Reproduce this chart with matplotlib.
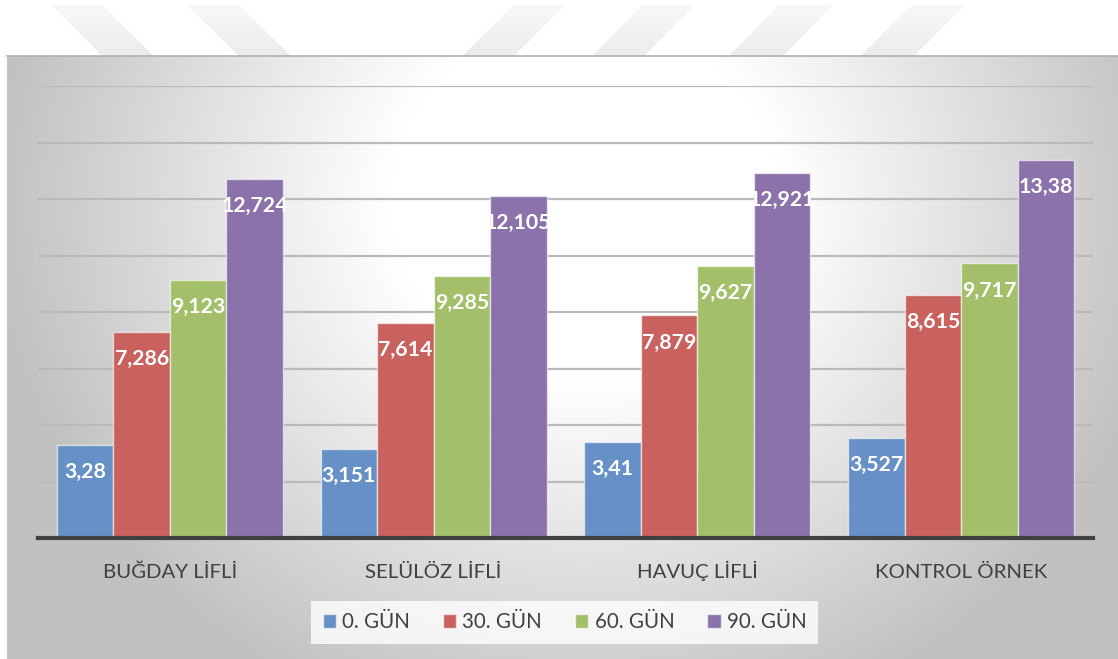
import numpy as np
import matplotlib
matplotlib.use("Agg")
import matplotlib.pyplot as plt
from matplotlib.patches import Polygon

categories = ["BUĞDAY LİFLİ", "SELÜLÖZ LİFLİ", "HAVUÇ LİFLİ", "KONTROL ÖRNEK"]
series_names = ["0. GÜN", "30. GÜN", "60. GÜN", "90. GÜN"]
gun0 = [3.28, 3.151, 3.41, 3.527]
gun30 = [7.286, 7.614, 7.879, 8.615]
gun60 = [9.123, 9.285, 9.627, 9.717]
gun90 = [12.724, 12.105, 12.921, 13.38]
labels0 = ["3,28", "3,151", "3,41", "3,527"]
labels30 = ["7,286", "7,614", "7,879", "8,615"]
labels60 = ["9,123", "9,285", "9,627", "9,717"]
labels90 = ["12,724", "12,105", "12,921", "13,38"]

colors = ["#6690C6", "#C9625E", "#A3BF69", "#8B72AA"]

plt.rcParams['font.family'] = ['Lato', 'DejaVu Sans']

W, H = 1118, 659
fig = plt.figure(figsize=(W / 100, H / 100), dpi=100)
fig.patch.set_facecolor("white")

# watermark stripes (decoration) with vertical fade
wm = fig.add_axes([0, 0, 1, 1], zorder=0)
wm.set_xlim(0, W)
wm.set_ylim(H, 0)
wm.axis("off")
grad = np.linspace(0.975, 0.925, 60).reshape(-1, 1)
grad_img = np.dstack([grad, grad, grad])
stripes = [
    [(52, 5), (102, 5), (154, 56), (102, 56)],
    [(187, 5), (239, 5), (291, 56), (239, 56)],
    [(514, 5), (565, 5), (514, 56), (462, 56)],
    [(642, 5), (695, 5), (644, 56), (592, 56)],
    [(779, 5), (833, 5), (783, 56), (729, 56)],
    [(912, 5), (965, 5), (914, 56), (860, 56)],
]
for s in stripes:
    poly = Polygon(s, closed=True, facecolor="none", edgecolor="none")
    wm.add_patch(poly)
    im = wm.imshow(grad_img, extent=[0, W, 56, 4], aspect="auto", interpolation="bilinear")
    im.set_clip_path(poly)
wm.set_xlim(0, W)
wm.set_ylim(H, 0)

# chart area gradient background
x0, y0 = 7, 56
bg = fig.add_axes([x0 / W, 0, (W - x0) / W, (H - y0) / H], zorder=1)
gx = np.linspace(x0, W, 400)
gy = np.linspace(y0, H, 240)
GX, GY = np.meshgrid(gx, gy)
t = np.sqrt(((GX - 585) / 560) ** 2 + ((GY - 200) / 520) ** 2)
t = np.clip((t - 0.35) / 0.7, 0, 1)
val = 1.0 - t * (1.0 - 0.76)
img = np.dstack([val, val, val])
bg.imshow(img, aspect="auto", extent=[0, 1, 0, 1], origin="upper")
bg.set_xlim(0, 1)
bg.set_ylim(0, 1)
bg.axis("off")
fig.add_artist(plt.Line2D([x0 / W, 1], [1 - y0 / H, 1 - y0 / H], transform=fig.transFigure,
                          color="#b0b0b0", lw=1.2, zorder=1.5))
fig.add_artist(plt.Line2D([x0 / W, x0 / W], [0, 1 - y0 / H], transform=fig.transFigure,
                          color="#c8c8c8", lw=1.0, zorder=1.5))

# main axes
left, right, top, bottom = 38, 1093, 86, 538
ax = fig.add_axes([left / W, 1 - bottom / H, (right - left) / W, (bottom - top) / H], zorder=2)
ax.patch.set_alpha(0)

x = np.arange(len(categories))
bw = 0.214
all_vals = [gun0, gun30, gun60, gun90]
all_labels = [labels0, labels30, labels60, labels90]
for i, (vals, labs) in enumerate(zip(all_vals, all_labels)):
    pos = x + (i - 1.5) * bw
    bars = ax.bar(pos, vals, width=bw, color=colors[i], edgecolor=(1, 1, 1, 0.6),
                  linewidth=1.0, label=series_names[i], zorder=3)
    for b, lab in zip(bars, labs):
        ax.annotate(lab, (b.get_x() + b.get_width() / 2, b.get_height()),
                    xytext=(0, -19.5), textcoords="offset points",
                    ha="center", va="center", color="white", fontsize=15.3,
                    fontweight="bold", zorder=4)

ax.set_xlim(-0.5, len(categories) - 0.5)
ax.set_ylim(0, 16)
ax.set_yticks(np.arange(2, 17, 2))
ax.yaxis.grid(True, color="#bababa", lw=1.6, zorder=1)
ax.set_axisbelow(True)
ax.tick_params(axis="y", left=False, labelleft=False)
ax.set_xticks(x)
ax.set_xticklabels(categories, fontsize=14.7, color="#404040", va="baseline")
ax.tick_params(axis="x", length=0, pad=28.5)
for sp in ["top", "right", "left"]:
    ax.spines[sp].set_visible(False)
ax.spines["bottom"].set_color("#404040")
ax.spines["bottom"].set_linewidth(3)
ax.spines["bottom"].set_zorder(5)

leg = ax.legend(loc="center", bbox_to_anchor=(564.5 / W, 1 - 622.5 / H),
                bbox_transform=fig.transFigure, ncol=4, frameon=True,
                fancybox=False, fontsize=14.8, handlelength=0.65, handleheight=0.65,
                handletextpad=0.3, columnspacing=1.6, borderpad=0.55,
                labelcolor="#404040")
leg.get_frame().set_facecolor((1, 1, 1, 0.35))
leg.get_frame().set_edgecolor("none")

fig.savefig("out.png", dpi=100, facecolor="white")
